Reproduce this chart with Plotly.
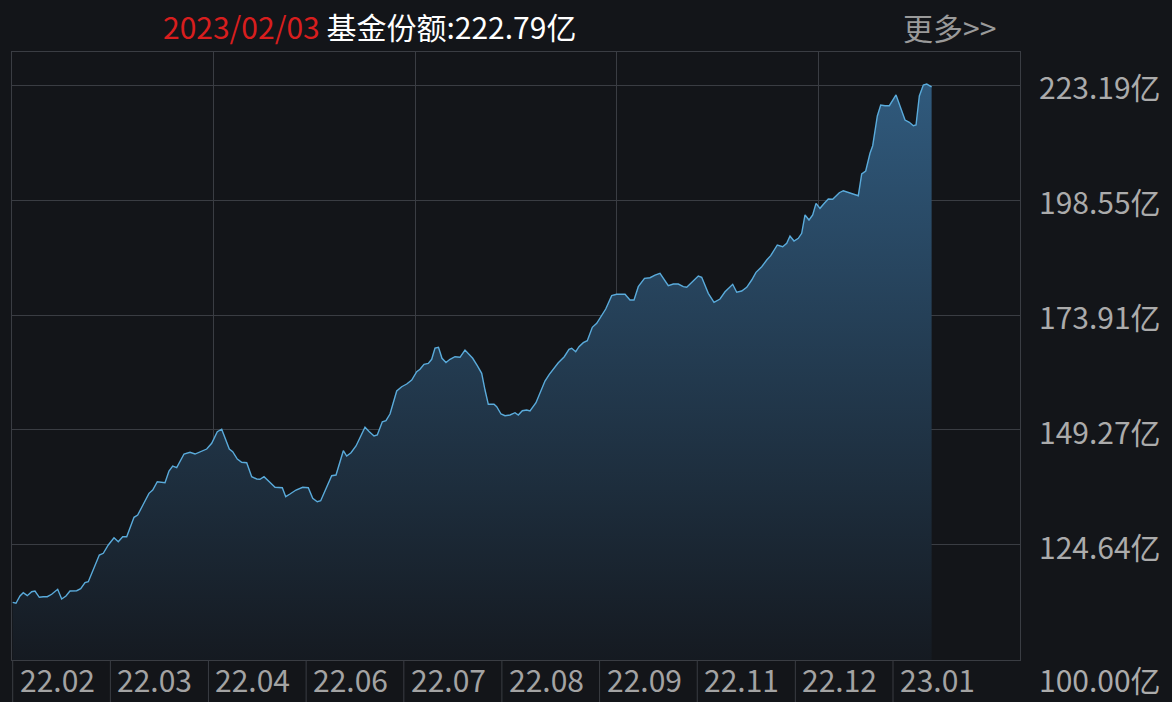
import plotly.graph_objects as go

# trading-day position (from first point) and fund share in 亿
day = [0, 0.85, 1.89, 2.74, 3.78, 4.92, 5.77, 6.89, 7.92, 8.96,
       10.10, 11.65, 12.69, 13.80, 14.84, 16.58, 17.61, 18.73, 19.58, 20.88,
       22.43, 23.47, 24.76, 26.24, 27.35, 28.49, 29.53, 31.42, 32.37, 33.83,
       35.30, 36.26, 37.45, 39.45, 40.48, 41.44, 42.48, 44.37, 45.92, 47.22,
       48.95, 50.25, 51.54, 52.99, 54.13, 54.99, 56.10, 56.98, 58.17, 59.31,
       60.61, 61.90, 63.20, 64.05, 65.09, 66.46, 67.94, 69.83, 70.71, 71.82,
       73.38, 75.11, 76.56, 77.70, 78.89, 79.77, 81.15, 82.62, 83.74, 85.63,
       86.51, 87.62, 88.92, 90.13, 91.25, 92.36, 93.58, 94.43, 95.73, 96.68,
       97.72, 99.46, 100.75, 102.05, 103.34, 104.64, 105.49, 106.53, 107.64, 108.52,
       109.38, 110.28, 111.19, 112.22, 113.26, 114.55, 115.85, 117.14, 118.26, 119.14,
       120.33, 121.47, 122.33, 123.18, 124.66, 125.36, 126.47, 127.51, 128.80, 130.10,
       130.95, 131.99, 133.13, 133.98, 135.53, 136.57, 137.86, 138.98, 140.01, 141.31,
       142.86, 144.08, 144.78, 145.82, 146.67, 147.79, 148.82, 150.12, 151.26, 152.55,
       153.59, 155.14, 156.44, 158.59, 159.88, 160.92, 162.03, 163.64, 165.06, 166.36,
       167.65, 169.80, 171.10, 172.39, 173.69, 174.57, 176.12, 177.57, 178.45, 180.16,
       181.64, 183.19, 184.49, 186.48, 187.52, 188.81, 190.11, 191.40, 192.51, 193.99,
       195.29, 196.32, 198.03, 199.43, 200.47, 201.32, 202.36, 203.47, 204.35, 205.21,
       206.24, 207.20, 208.06, 209.09, 210.21, 211.24, 212.38, 214.09, 215.13, 216.42,
       217.56, 219.01, 219.89, 220.93, 222.04, 222.74, 223.94, 224.82, 225.93, 227.05,
       228.78, 231.11, 232.23, 233.26, 233.96, 234.82, 235.85, 236.73, 238.0]
share = [112.36, 112.15, 113.71, 114.42, 113.78, 114.63, 114.78, 113.43, 113.56, 113.56,
         114.08, 115.15, 113.07, 113.71, 114.78, 114.85, 115.28, 116.56, 116.78, 119.43,
         122.50, 122.86, 124.64, 126.20, 125.34, 126.42, 126.42, 130.57, 131.06, 133.36,
         135.71, 136.42, 138.20, 137.98, 140.49, 141.56, 141.20, 144.13, 144.50, 144.13,
         144.84, 145.20, 146.43, 148.91, 149.45, 147.50, 145.20, 144.63, 143.06, 142.36,
         142.27, 139.27, 138.78, 138.71, 139.27, 138.20, 137.00, 136.91, 134.99, 135.56,
         136.42, 137.00, 136.91, 134.64, 133.91, 134.13, 136.57, 139.48, 139.63, 144.84,
         143.70, 144.41, 145.85, 147.84, 149.85, 148.91, 147.99, 148.20, 151.05, 151.27,
         152.70, 157.63, 158.55, 159.13, 159.99, 161.77, 162.28, 163.35, 163.56, 164.42,
         166.84, 166.99, 164.64, 163.74, 164.42, 164.98, 164.85, 166.41, 165.34, 164.64,
         163.05, 161.42, 157.84, 154.78, 154.78, 154.27, 152.70, 152.34, 152.49, 152.98,
         152.49, 153.41, 153.56, 153.35, 155.12, 157.14, 159.77, 161.21, 162.28, 163.69,
         164.98, 166.56, 166.78, 166.05, 167.12, 167.98, 168.41, 171.28, 172.13, 173.91,
         175.20, 178.05, 178.35, 178.35, 177.13, 177.13, 179.98, 181.77, 181.90, 182.48,
         182.85, 180.19, 180.55, 180.55, 179.98, 179.85, 181.05, 182.27, 181.99, 178.56,
         176.63, 177.34, 178.90, 180.49, 178.78, 179.05, 179.85, 181.41, 183.06, 184.26,
         185.70, 186.62, 188.91, 188.55, 189.27, 190.84, 189.77, 190.35, 191.42, 195.34,
         194.27, 195.34, 197.84, 196.77, 197.84, 198.76, 198.70, 200.11, 200.54, 200.20,
         199.84, 199.47, 204.12, 204.76, 208.56, 210.18, 216.55, 218.90, 218.75, 218.75,
         221.05, 215.69, 215.20, 214.47, 214.62, 220.83, 223.19, 223.40, 222.79]

last_date = "2023/02/03"
last_value = 222.79

x_label_pos = [0, 25.3, 50.7, 76.0, 101.3, 126.7, 152.0, 177.3, 202.7, 228.0]
x_labels = ["22.02", "22.03", "22.04", "22.06", "22.07", "22.08",
            "22.09", "22.11", "22.12", "23.01"]
y_ticks = [100.00, 124.64, 149.28, 173.91, 198.55, 223.19]
y_labels = ["100.00亿", "124.64亿", "149.27亿", "173.91亿", "198.55亿", "223.19亿"]

BG = "#131519"
GRID = "#3a3d43"
FONT = "Noto Sans CJK SC"
x_range = [-0.18, 260.89]
y_range = [100, 230.26]

fig = go.Figure()
fig.add_trace(go.Scatter(
    x=day, y=share, mode="lines",
    line=dict(color="#5aabdb", width=1.4),
    fill="tozeroy",
    fillgradient=dict(type="vertical", start=100, stop=224,
                      colorscale=[[0, "#151a21"], [1, "#305a7d"]]),
    hoverinfo="skip", showlegend=False))

# separators under the x axis
for p in x_label_pos:
    fig.add_shape(type="line", xref="x", yref="paper", x0=p, x1=p, y0=0, y1=-0.075,
                  line=dict(color=GRID, width=1))

annos = []
for p, t in zip(x_label_pos, x_labels):
    annos.append(dict(x=p, y=0, xref="x", yref="paper", text=t, showarrow=False,
                      xanchor="left", yanchor="middle", xshift=5, yshift=-19,
                      font=dict(family=FONT, size=30, color="#a3a3a3")))
for v, t in zip(y_ticks, y_labels):
    annos.append(dict(x=1.142, y=v, xref="paper", yref="y", text=t, showarrow=False,
                      xanchor="right", yanchor="middle",
                      yshift=-19 if v == y_ticks[0] else -1,
                      font=dict(family=FONT, size=30, color="#ababab")))
annos.append(dict(x=0.148, y=1.042, xref="paper", yref="paper", showarrow=False,
                  xanchor="left", yanchor="middle",
                  text='<span style="color:#d81e1e">%s</span> 基金份额:%.2f亿' % (last_date, last_value),
                  font=dict(family=FONT, size=30, color="#ffffff")))
annos.append(dict(x=0.978, y=1.041, xref="paper", yref="paper", showarrow=False,
                  xanchor="right", yanchor="middle", text="更多>>",
                  font=dict(family=FONT, size=30, color="#9a9a9a")))

fig.update_xaxes(range=x_range, showticklabels=False, ticks="",
                 tickvals=[x_range[0] + i * (x_range[1] - x_range[0]) / 5 for i in range(1, 5)],
                 showgrid=True, gridcolor=GRID, gridwidth=1, zeroline=False,
                 showline=True, mirror=True, linecolor=GRID, linewidth=1)
fig.update_yaxes(range=y_range, showticklabels=False, ticks="", tickvals=y_ticks,
                 showgrid=True, gridcolor=GRID, gridwidth=1, zeroline=False,
                 showline=True, mirror=True, linecolor=GRID, linewidth=1)

fig.update_layout(width=1172, height=702, paper_bgcolor=BG, plot_bgcolor=BG,
                  margin=dict(l=12, r=152, t=52, b=42),
                  annotations=annos, font=dict(family=FONT))
fig.write_html("out.html", config={"displayModeBar": False},
               post_script="document.body.style.margin='0';document.body.style.background='%s';" % BG)
